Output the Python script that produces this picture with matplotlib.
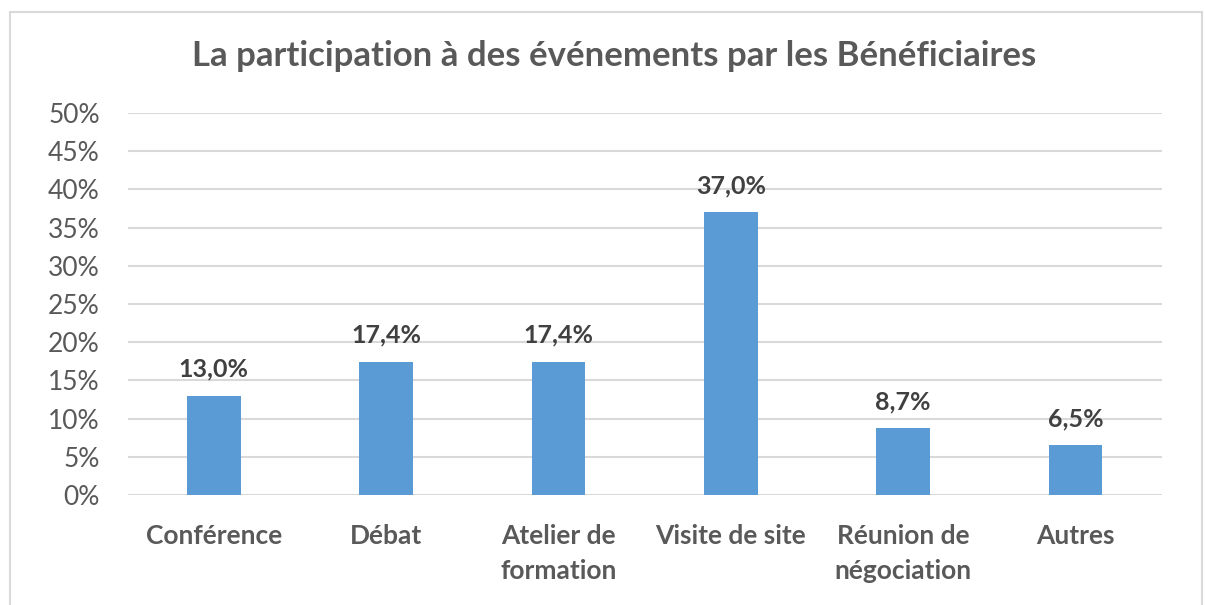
import numpy as np
import matplotlib.pyplot as plt
from matplotlib.patches import Rectangle

categories = ['Conférence', 'Débat', 'Atelier de\nformation', 'Visite de site',
              'Réunion de\nnégociation', 'Autres']
values = [13.0, 17.4, 17.4, 37.0, 8.7, 6.5]
yticks = [0, 5, 10, 15, 20, 25, 30, 35, 40, 45, 50]

plt.rcParams['font.family'] = ['Lato', 'DejaVu Sans']

fig = plt.figure(figsize=(12.05, 6.05), dpi=100)
ax = fig.add_axes([0.106, 0.182, 0.858, 0.631])

x = np.arange(len(categories))
ax.bar(x, values, width=0.31, color='#5B9BD5', zorder=3)

for xi, v in zip(x, values):
    ax.text(xi, v + 2.0, '{:.1f}%'.format(v).replace('.', ','), ha='center', va='bottom',
            fontsize=18, fontweight='bold', color='#404040')

ax.set_xlim(-0.5, len(categories) - 0.5)
ax.set_ylim(0, 50)
ax.set_yticks(yticks)
ax.set_yticklabels(['{}%'.format(t) for t in yticks], fontsize=19, color='#595959')
ax.set_xticks(x)
ax.set_xticklabels(categories, fontsize=19, fontweight='bold', color='#595959',
                   linespacing=1.55, va='top')
ax.tick_params(axis='both', length=0)
ax.tick_params(axis='x', pad=21)
ax.tick_params(axis='y', pad=20)
ax.grid(axis='y', color='#D9D9D9', linewidth=1.5, zorder=0)
for s in ax.spines.values():
    s.set_visible(False)

fig.text(0.51, 0.907, 'La participation à des événements par les Bénéficiaires',
         ha='center', va='center', fontsize=25, fontweight='bold', color='#595959')

fig.patches.append(Rectangle((10 / 1205, -0.01), 1192 / 1205, 1 - 12 / 605 + 0.01,
                             transform=fig.transFigure, fill=False,
                             edgecolor='#D9D9D9', linewidth=1.5))

fig.savefig('out.png', dpi=100)
